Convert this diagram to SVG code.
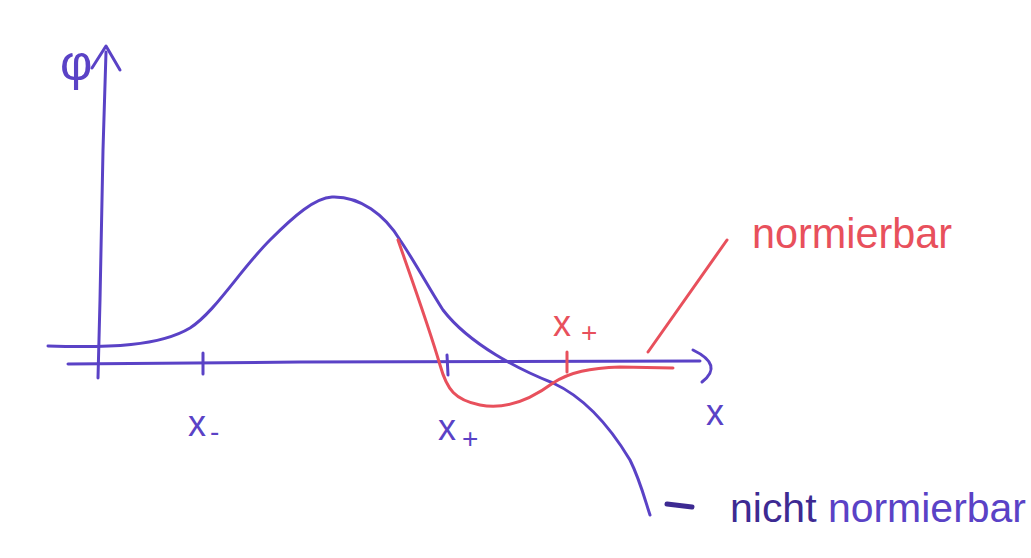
<svg xmlns="http://www.w3.org/2000/svg" width="1031" height="558" viewBox="0 0 1031 558">
<style>
.b{fill:none;stroke:#5a42c6;stroke-width:3;stroke-linecap:round;stroke-linejoin:round}
.r{fill:none;stroke:#e8505c;stroke-width:3;stroke-linecap:round;stroke-linejoin:round}
.tb{font-family:"Liberation Sans",sans-serif;fill:#5a42c6}
.tr{font-family:"Liberation Sans",sans-serif;fill:#e8505c}
</style>
<rect width="1031" height="558" fill="#ffffff"/>
<g id="axes">
<path class="b" d="M98,378 L100,300 L103,150 L106,52"/>
<path class="b" d="M92,68 L106,46 L120,70"/>
<path class="b" d="M68,364 L300,362 L700,361"/>
<path class="b" d="M693,350 Q724,365 702,382"/>
<path class="b" d="M203,353 L203,374"/>
<path class="b" d="M447,355 L448,375"/>
<path class="r" d="M567,352 L567,372"/>
</g>
<g id="curves">
<path id="blue-curve" class="b" d="M48,346 C110,348 160,346 190,328 C215,312 240,270 270,240 C295,215 315,198 332,197 C360,196 385,215 400,240 C415,262 430,290 443,310 C470,345 520,370 553,383 C590,400 615,435 630,460 C640,480 645,500 650,515"/>
<path id="red-curve" class="r" d="M398,240 C412,280 430,330 440,365 C447,390 455,400 480,405 C505,410 530,400 553,383 C570,372 590,368 620,367 L673,368"/>
<path class="r" d="M648,352 L727,240"/>
<path d="M667,504 L692,507" fill="none" stroke="#3d2a92" stroke-width="5" stroke-linecap="round"/>
</g>
<g id="labels">
<text class="tb" x="60" y="80" font-size="50">φ</text>
<text class="tb" x="706" y="425" font-size="36">x</text>
<text class="tb" x="188" y="436" font-size="36">x<tspan font-size="28" dx="4" dy="5">-</tspan></text>
<text class="tb" x="438" y="440" font-size="36">x<tspan font-size="28" dx="6" dy="8">+</tspan></text>
<text class="tr" x="553" y="336" font-size="36">x<tspan font-size="28" dx="10" dy="6">+</tspan></text>
<text class="tr" x="752" y="248" font-size="42" textLength="200" lengthAdjust="spacingAndGlyphs">normierbar</text>
<text class="tb" x="730" y="522" font-size="40" textLength="296" lengthAdjust="spacingAndGlyphs"><tspan fill="#3d2a92">nicht</tspan> normierbar</text>
</g>
</svg>
